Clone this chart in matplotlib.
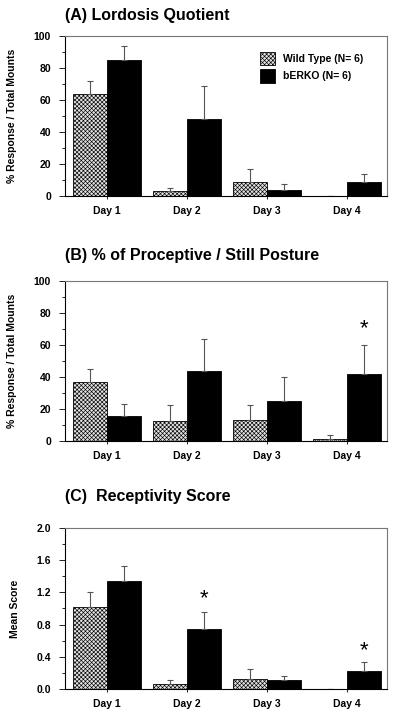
import matplotlib.pyplot as plt
import numpy as np
from matplotlib.ticker import MultipleLocator

plt.rcParams['font.family'] = ['Liberation Sans', 'DejaVu Sans']
plt.rcParams['font.weight'] = 'bold'
plt.rcParams['hatch.color'] = '#a0a0a0'
plt.rcParams['hatch.linewidth'] = 0.45

days = ['Day 1', 'Day 2', 'Day 3', 'Day 4']
groups = ['Wild Type (N= 6)', 'bERKO (N= 6)']

# (A) Lordosis quotient
lq_wt = [63.5, 3, 8.5, 0]
lq_wt_err = [8.5, 2, 8.5, 0]
lq_ko = [85, 48, 4, 8.5]
lq_ko_err = [8.5, 20.5, 3.5, 5]

# (B) proceptive / still posture
pp_wt = [37, 12.5, 13, 1]
pp_wt_err = [8, 10, 9.5, 2.5]
pp_ko = [15.5, 44, 25, 42]
pp_ko_err = [7.5, 20, 15, 18]
pp_stars = [(3, 70)]

# (C) receptivity score
rs_wt = [1.02, 0.06, 0.12, 0]
rs_wt_err = [0.18, 0.05, 0.13, 0]
rs_ko = [1.34, 0.75, 0.11, 0.22]
rs_ko_err = [0.19, 0.21, 0.05, 0.11]
rs_stars = [(1, 1.12), (3, 0.47)]

fig = plt.figure(figsize=(4, 7.21), dpi=100)

panels = [
    ('(A) Lordosis Quotient', lq_wt, lq_wt_err, lq_ko, lq_ko_err, [], 100, 20, 10,
     '% Response / Total Mounts', '{:.0f}', [0.1625, 0.7282, 0.805, 0.2219], 0.978),
    ('(B) % of Proceptive / Still Posture', pp_wt, pp_wt_err, pp_ko, pp_ko_err, pp_stars, 100, 20, 10,
     '% Response / Total Mounts', '{:.0f}', [0.1625, 0.3883, 0.805, 0.2220], 0.646),
    ('(C)  Receptivity Score', rs_wt, rs_wt_err, rs_ko, rs_ko_err, rs_stars, 2.0, 0.4, 0.2,
     'Mean Score', '{:.1f}', [0.1625, 0.0444, 0.805, 0.2233], 0.312),
]

x = np.arange(len(days))
w = 0.43
err_kw = dict(ecolor='#555555', elinewidth=0.8, capsize=2.5, capthick=0.8)

for title, wt, wt_err, ko, ko_err, stars, ymax, major, minor, ylabel, fmt, pos, ty in panels:
    ax = fig.add_axes(pos)
    ax.bar(x - w / 2, wt, w, color='#e2e2e2', edgecolor='black', linewidth=0.6,
           hatch='xxxxxxxx', label=groups[0],
           yerr=[np.zeros(len(wt)), wt_err], error_kw=err_kw)
    ax.bar(x + w / 2, ko, w, color='black', edgecolor='black', linewidth=0.6,
           label=groups[1],
           yerr=[np.zeros(len(ko)), ko_err], error_kw=err_kw)
    for xi, yi in stars:
        ax.text(xi + w / 2, yi, '*', ha='center', va='center', fontsize=16, fontweight='normal')

    ax.set_xlim(-0.525, 3.5)
    ax.set_ylim(0, ymax)
    ax.set_xticks(x)
    ax.set_xticklabels(days, fontsize=7.5)
    ax.yaxis.set_minor_locator(MultipleLocator(minor))
    ticks = np.arange(0, ymax + major / 2, major)
    ax.set_yticks(ticks)
    ax.set_yticklabels([fmt.format(v) for v in ticks], fontsize=7.5)
    ax.tick_params(axis='y', which='major', length=4, width=0.6, direction='out', pad=6)
    ax.tick_params(axis='y', which='minor', length=2.5, width=0.6, direction='out')
    ax.tick_params(axis='x', length=2.5, width=0.6, direction='out', pad=5)
    ax.set_ylabel(ylabel, fontsize=7.5, fontweight='bold', labelpad=12)
    for s in ['left', 'bottom']:
        ax.spines[s].set_linewidth(0.8)
    for s in ['top', 'right']:
        ax.spines[s].set_color('#777777')
        ax.spines[s].set_linewidth(0.8)
    fig.text(0.1625, ty, title, fontsize=11.5, fontweight='bold', ha='left', va='center')

    if title.startswith('(A)'):
        ax.legend(loc='upper right', bbox_to_anchor=(0.955, 0.96), frameon=False,
                  fontsize=7.5, handlelength=1.4, handleheight=1.6, labelspacing=0.4,
                  handletextpad=0.8)

fig.savefig('out.png', dpi=100)
